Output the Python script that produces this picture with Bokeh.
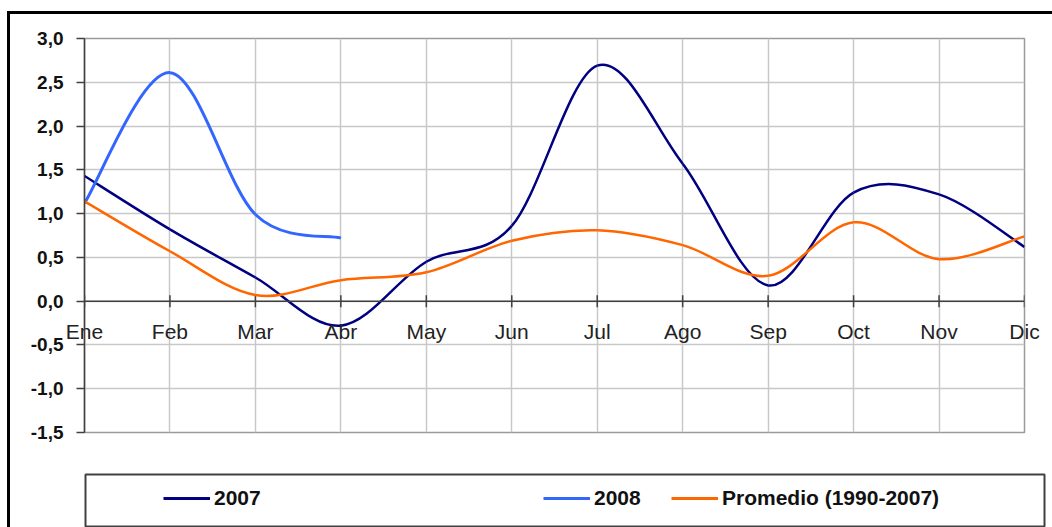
import numpy as np
from bokeh.plotting import figure
from bokeh.layouts import column, row
from bokeh.models import (Range1d, FixedTicker, Legend, LegendItem, ColumnDataSource, Span)
from bokeh.embed import file_html
from bokeh.resources import INLINE

# ---------------- data ----------------
months = ["Ene", "Feb", "Mar", "Abr", "May", "Jun", "Jul", "Ago", "Sep", "Oct", "Nov", "Dic"]
s2007 = [1.43, 0.82, 0.27, -0.28, 0.45, 0.86, 2.69, 1.57, 0.18, 1.24, 1.22, 0.62]
s2008 = [1.12, 2.61, 0.99, 0.72]
promedio = [1.14, 0.57, 0.07, 0.24, 0.33, 0.69, 0.81, 0.64, 0.29, 0.90, 0.48, 0.74]
series_names = ["2007", "2008", "Promedio (1990-2007)"]
series_colors = ["#000080", "#3366FF", "#FF6600"]
y_ticks = [-1.5, -1.0, -0.5, 0.0, 0.5, 1.0, 1.5, 2.0, 2.5, 3.0]
y_labels = ["-1,5", "-1,0", "-0,5", "0,0", "0,5", "1,0", "1,5", "2,0", "2,5", "3,0"]

FONT = "Liberation Sans"


def smooth_source(vals):
    """Bezier segments (Excel-like smoothing) through the data points."""
    y = np.asarray(vals, dtype=float)
    x = np.arange(len(y), dtype=float)
    xp = np.concatenate([[x[0]], x, [x[-1]]])
    yp = np.concatenate([[y[0]], y, [y[-1]]])
    dx = (xp[2:] - xp[:-2]) / 6.0
    dy = (yp[2:] - yp[:-2]) / 6.0
    return ColumnDataSource(dict(
        x0=x[:-1], y0=y[:-1], x1=x[1:], y1=y[1:],
        cx0=x[:-1] + dx[:-1], cy0=y[:-1] + dy[:-1],
        cx1=x[1:] - dx[1:], cy1=y[1:] - dy[1:]))


xi = list(range(len(months)))

# ---------------- main chart ----------------
p = figure(width=1042, height=452, output_backend="svg", toolbar_location=None,
           x_range=Range1d(0, len(months) - 1), y_range=Range1d(-1.5, 3.0),
           min_border_left=74, min_border_right=28, min_border_top=24,
           min_border_bottom=34)
p.background_fill_color = "white"
p.border_fill_color = "white"
p.outline_line_color = "#9a9a9a"
p.outline_line_width = 1.5

# month labels: bottom axis whose labels are lifted up to sit under the zero line
p.xaxis.ticker = FixedTicker(ticks=xi)
p.xaxis.major_label_overrides = {i: m for i, m in zip(xi, months)}
p.xaxis.major_label_text_font = FONT
p.xaxis.major_label_text_font_size = "21px"
p.xaxis.major_label_text_color = "#222222"
p.xaxis.major_label_standoff = -113
p.xaxis.major_tick_in = 0
p.xaxis.major_tick_out = 0
p.xaxis.minor_tick_line_color = None
p.xaxis.axis_line_color = None
p.xaxis.major_tick_line_color = None
p.xgrid.ticker = FixedTicker(ticks=xi)
p.xgrid.grid_line_color = "#c8c8c8"
p.xgrid.grid_line_width = 1.5

# zero line with crossing ticks
p.add_layout(Span(location=0, dimension="width", line_color="#404040", line_width=1.5))
p.scatter(x=xi, y=[0] * len(xi), marker="dash", angle=np.pi / 2, size=12,
          line_color="#404040", line_width=1.5)

# y axis
p.yaxis.ticker = FixedTicker(ticks=y_ticks)
p.yaxis.major_label_overrides = {t: l for t, l in zip(y_ticks, y_labels)}
p.yaxis.major_label_text_font = FONT
p.yaxis.major_label_text_font_style = "bold"
p.yaxis.major_label_text_font_size = "19px"
p.yaxis.major_label_text_color = "#111111"
p.yaxis.major_label_standoff = 13
p.yaxis.major_tick_out = 8
p.yaxis.major_tick_in = 0
p.yaxis.minor_tick_line_color = None
p.yaxis.axis_line_color = "#404040"
p.yaxis.axis_line_width = 1.5
p.yaxis.major_tick_line_color = "#404040"
p.yaxis.major_tick_line_width = 1.5
p.ygrid.ticker = FixedTicker(ticks=y_ticks)
p.ygrid.grid_line_color = "#c8c8c8"
p.ygrid.grid_line_width = 1.5

# series (smoothed)
for vals, col, lw in zip([s2007, s2008, promedio], series_colors, [2.5, 3, 2.5]):
    p.bezier(x0="x0", y0="y0", x1="x1", y1="y1", cx0="cx0", cy0="cy0",
             cx1="cx1", cy1="cy1", source=smooth_source(vals),
             line_color=col, line_width=lw)

# ---------------- legend box ----------------
pl = figure(width=1042, height=61, output_backend="svg", toolbar_location=None,
            x_range=Range1d(-20, -19), y_range=Range1d(-20, -19),
            x_axis_location=None, y_axis_location=None,
            min_border_left=75, min_border_right=8, min_border_top=8,
            min_border_bottom=1)
pl.grid.grid_line_color = None
pl.background_fill_color = "white"
pl.border_fill_color = "white"
pl.outline_line_color = "#404040"
pl.outline_line_width = 2

for vals, name, col, xloc in zip([s2007, s2008, promedio], series_names,
                                 series_colors, [78, 458, 586]):
    # series drawn outside this box's ranges: only its legend sample shows
    r = pl.line(x=xi[:len(vals)], y=vals, line_color=col, line_width=3)
    lg = Legend(items=[LegendItem(label=name, renderers=[r])], location=(xloc, 16),
                orientation="horizontal", glyph_width=47, glyph_height=20,
                label_height=20, label_standoff=4, padding=0, margin=0, spacing=0,
                border_line_color=None, background_fill_alpha=0,
                label_text_font=FONT, label_text_font_style="bold",
                label_text_font_size="21px", label_text_color="#111111")
    pl.add_layout(lg, "center")

layout = column(p, row(pl), spacing=0,
                styles={"border-left": "3px solid black", "border-top": "3px solid black",
                        "margin-left": "7px", "margin-top": "11px"})

open("out.html", "w").write(file_html(layout, INLINE))
